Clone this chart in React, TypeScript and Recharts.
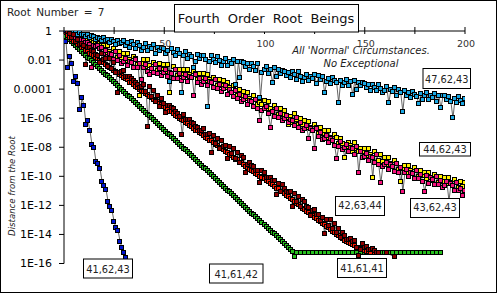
import { LineChart, Line, XAxis, YAxis } from "recharts";

// log10 of the distance from the root, one entry per iteration (0, 1, 2, ...)
// null = exact hit (distance 0) which a log axis can't show
const blue41_62_43 = [
  0, -0.73, -2.52, -1.81, -2.29, -3.49, -3.17, -3.67, -5.46, -4.63,
  -5.14, -6.5, -6.17, -6.9, -7.85, -8.07, -9.04, -9.15, -9.5, -10.37,
  -10.65, -10.94, -11.75, -12.09, -12.39, -13.12, -13.58, -13.76, -14.5, -14.96,
  -15.3, -15.65,
];

const green41_61_42 = [
  -0.25, -0.38, -0.52, -0.64, -0.77, -0.9, -1.04, -1.17, -1.3, -1.43,
  -1.56, -1.69, -1.83, -1.95, -2.08, -2.22, -2.35, -2.48, -2.61, -2.74,
  -2.87, -3.0, -3.13, -3.26, -3.4, -3.53, -3.66, -3.79, -3.92, -4.05,
  -4.18, -4.31, -4.44, -4.57, -4.7, -4.84, -4.97, -5.1, -5.23, -5.36,
  -5.49, -5.62, -5.75, -5.88, -6.01, -6.15, -6.28, -6.41, -6.54, -6.67,
  -6.8, -6.93, -7.06, -7.19, -7.32, -7.45, -7.58, -7.71, -7.83, -7.96,
  -8.09, -8.22, -8.35, -8.48, -8.61, -8.75, -8.88, -9.01, -9.14, -9.27,
  -9.4, -9.53, -9.66, -9.8, -9.93, -10.06, -10.19, -10.32, -10.45, -10.59,
  -10.72, -10.85, -10.98, -11.11, -11.24, -11.38, -11.51, -11.64, -11.77, -11.9,
  -12.03, -12.16, -12.3, -12.43, -12.56, -12.69, -12.82, -12.95, -13.08, -13.22,
  -13.35, -13.48, -13.61, -13.74, -13.87, -14.0, -14.13, -14.26, -14.4, -14.53,
  -14.66, -14.79, -14.92, -15.05, -15.19, -15.57, -15.26, null, -15.26, null,
  -15.26, null, -15.26, null, -15.26, null, -15.26, null, -15.26, null,
  -15.26, null, -15.26, null, -15.26, null, -15.26, null, -15.26, null,
  -15.26, null, -15.26, null, -15.26, null, -15.26, null, -15.26, null,
  -15.26, null, -15.26, null, -15.26, null, -15.26, null, -15.26, null,
  -15.26, null, -15.26, null, -15.26, null, -15.26, null, -15.26, null,
  -15.26, null, -15.26, null, -15.26, null, -15.26, null, -15.26, null,
  -15.26, null, -15.26, null, -15.26, null, -15.26, null, -15.26,
];

const red41_61_41 = [
  0, -0.15, -0.35, -0.5, -0.6, -0.78, -0.85, -0.98, -1.05, -1.15,
  -1.2, -1.38, -1.4, -1.58, -1.62, -1.72, -1.85, -1.9, -2.05, -2.1,
  -2.2, -2.35, -2.4, -2.55, -2.6, -2.72, -2.85, -2.9, -3.05, -3.1,
  -3.2, -3.33, -3.4, -3.55, -3.6, -3.72, -3.85, -3.9, -4.05, -4.1,
  -4.2, -4.33, -4.4, -4.55, -4.6, -4.72, -4.85, -4.9, -5.05, -5.1,
  -5.2, -5.33, -5.4, -5.55, -5.6, -5.72, -5.85, -5.9, -6.05, -6.1,
  -6.2, -6.33, -6.4, -6.55, -6.6, -6.72, -6.85, -6.9, -7.05, -7.1,
  -7.2, -7.33, -7.4, -7.55, -7.6, -7.72, -7.85, -7.9, -8.05, -8.1,
  -8.2, -8.33, -8.4, -8.55, -8.6, -8.72, -8.85, -8.9, -9.05, -9.1,
  -9.2, -9.33, -9.4, -9.55, -9.6, -9.72, -9.85, -9.9, -10.05, -10.1,
  -10.2, -10.33, -10.4, -10.55, -10.6, -10.72, -10.85, -10.9, -11.05, -11.1,
  -11.2, -11.33, -11.45, -11.55, -11.65, -11.78, -11.9, -12.0, -12.1, -12.22,
  -12.3, -12.45, -12.5, -12.65, -12.72, -12.85, -12.95, -13.05, -13.15, -13.3,
  -13.35, -13.5, -13.58, -13.7, -13.8, -13.9, -14.02, -14.1, -14.22, -14.3,
  -14.42, -14.5, -14.6, -14.65, -14.75, -14.82, -14.9, -14.95, -15.02, -15.08,
  -15.12, -15.18, -15.22, -15.26, null, -15.26,
];

const darkRed42_63_44 = [
  0, 0, -0.05, -0.2, -0.45, -0.25, -0.75, -0.6, -0.95, -0.9,
  -1.0, -2.34, -1.15, -1.2, -1.35, -1.45, -1.65, -1.7, -2.2, -1.6,
  -2.0, -1.9, -2.45, -1.95, -2.6, -2.2, -2.9, -4.24, -2.9, -2.85,
  -2.75, -3.15, -3.15, -3.15, -3.3, -3.45, -3.6, -3.7, -3.9, -3.85,
  -3.75, -4.2, -6.58, -3.85, -4.55, -4.15, -4.9, -4.45, -5.2, -4.65,
  -5.0, -5.66, -5.15, -5.15, -5.3, -5.4, -5.6, -5.7, -5.9, -7.16,
  -5.75, -6.15, -6.15, -6.15, -6.3, -6.4, -6.6, -6.7, -6.9, -6.85,
  -6.75, -7.15, -7.15, -7.1, -8.42, -7.25, -7.8, -7.45, -8.15, -7.6,
  -7.95, -7.9, -8.81, -7.95, -8.45, -8.1, -8.8, -8.4, -9.1, -8.6,
  -8.75, -9.79, -9.2, -9.1, -9.3, -9.35, -9.6, -9.65, -10.44, -9.65,
  -9.75, -10.1, -10.15, -10.1, -10.3, -10.35, -11.29, -10.55, -11.1, -10.6,
  -10.85, -11.05, -11.15, -11.1, -12.14, -11.2, -11.8, -11.45, -12.1, -11.6,
  -11.8, -12.1, -12.2, -12.71, -12.4, -12.35, -12.65, -12.65, -13.1, -12.85,
  -13.97, -13.0, -13.45, -13.0, -13.6, -13.3, -13.9, -13.6, -14.25, -13.9,
  -14.1, -14.35, -14.4, -14.3, -14.55, -14.45, -14.9, -15.5, -15.1, -14.65,
  -14.95, -14.85, -15.05, -15.1, -15.0, -15.15, -15.26, -15.26, null, null,
  null, -15.26, null, null, null, -15.57,
];

const pink43_62_43 = [
  0, -0.05, -0.15, -0.12, -0.3, -0.28, -0.45, -0.4, -0.55, -0.6,
  -0.7, -0.85, -0.8, -0.95, -2.57, -1.0, -1.1, -1.05, -1.25, -1.2,
  -1.55, -1.35, -1.82, -1.55, -1.65, -2.0, -1.42, -2.05, -1.75, -2.25,
  -2.1, -1.9, -2.38, -2.1, -2.2, -2.52, -1.98, -2.55, -2.25, -3.4,
  -2.55, -2.35, -2.82, -3.03, -2.6, -2.92, -2.35, -2.95, -2.62, -3.1,
  -2.9, -2.7, -3.18, -2.87, -2.95, -3.28, -2.7, -3.3, -2.98, -3.45,
  -3.2, -3.0, -3.48, -3.15, -3.25, -4.5, -3.02, -3.6, -3.3, -3.75,
  -3.5, -3.3, -3.8, -3.5, -3.6, -3.95, -3.4, -4.0, -3.7, -4.2,
  -4.0, -3.8, -4.38, -4.05, -4.25, -4.55, -4.1, -4.65, -4.38, -4.87,
  -4.75, -4.55, -5.08, -4.8, -4.9, -5.25, -4.72, -5.35, -6.2, -5.5,
  -5.4, -5.2, -5.7, -6.7, -5.55, -5.9, -5.35, -6.0, -5.7, -6.2,
  -6.05, -5.85, -6.35, -6.1, -6.2, -6.55, -6.0, -6.65, -6.35, -6.85,
  -6.75, -6.55, -7.4, -6.75, -6.88, -8.1, -6.75, -7.3, -7.0, -7.5,
  -7.4, -7.2, -7.7, -7.45, -7.55, -7.9, -8.8, -7.95, -7.65, -8.2,
  -8.05, -7.85, -8.35, -8.05, -8.15, -8.5, -7.95, -9.75, -8.3, -8.75,
  -8.65, -8.45, -8.95, -8.65, -8.75, -9.1, -8.55, -9.2, -10.48, -9.35,
  -9.25, -9.05, -9.55, -9.25, -9.35, -9.7, -9.15, -9.75, -9.45, -11.08,
  -9.8, -9.57, -10.08, -9.75, -9.85, -10.18, -9.65, -10.2, -9.92, -10.4,
  -11.08, -9.97, -10.5, -10.15, -10.28, -10.6, -10.05, -10.63, -10.35, -10.8,
  -10.65, -10.4, -11.7, -10.55, -10.68, -11.0, -10.45, -11.03, -10.9, -11.36,
  -11.0,
];

const yellow44_62_43 = [
  0, 0, -0.05, -0.1, -0.2, -0.15, -0.3, -0.35, -0.3, -0.45,
  -0.5, -0.62, -0.55, -0.75, -0.65, -0.85, -0.78, -0.95, -0.88, -1.05,
  -1.0, -1.5, -1.05, -1.45, -1.65, -1.25, -1.45, -1.85, -1.45, -1.85,
  -1.55, -2.05, -1.57, -2.0, -2.17, -1.78, -1.95, -2.35, -4.5, -2.3,
  -2.0, -2.47, -2.0, -2.4, -2.6, -2.18, -2.35, -2.75, -2.3, -2.7,
  -2.35, -2.85, -2.37, -4.29, -2.95, -2.5, -2.67, -3.08, -2.65, -3.02,
  -2.65, -3.13, -2.65, -3.05, -3.23, -2.8, -2.97, -3.38, -2.95, -3.32,
  -2.95, -3.45, -3.0, -3.4, -3.6, -3.22, -3.4, -3.8, -3.4, -3.8,
  -3.45, -3.95, -3.6, -3.95, -4.25, -3.8, -4.1, -4.45, -4.05, -4.5,
  -4.2, -4.7, -4.27, -4.7, -4.9, -4.5, -4.73, -5.12, -4.93, -5.12,
  -4.85, -5.35, -4.9, -5.35, -5.55, -5.15, -5.35, -5.8, -5.4, -5.8,
  -5.5, -6.0, -6.5, -5.95, -6.3, -5.7, -6.1, -6.45, -6.05, -6.5,
  -6.2, -6.7, -6.25, -6.65, -6.85, -6.5, -6.67, -7.1, -6.7, -7.1,
  -6.88, -7.35, -6.9, -7.35, -7.55, -7.15, -7.35, -7.8, -7.4, -7.8,
  -8.72, -7.95, -7.7, -7.9, -8.3, -7.7, -8.1, -8.3, -8.1, -8.3,
  -8.15, -8.6, -8.15, -8.55, -10.14, -8.35, -8.55, -8.95, -8.55, -9.0,
  -8.75, -9.2, -8.75, -9.15, -9.35, -8.95, -9.15, -9.55, -10.42, -9.5,
  -9.3, -9.75, -9.3, -9.65, -9.85, -9.45, -9.65, -10.02, -9.65, -10.0,
  -9.75, -10.2, -9.75, -10.1, -10.3, -9.88, -10.07, -10.45, -10.05, -10.4,
  -10.1, -10.55, -10.1, -10.45, -10.65, -10.22, -10.43, -10.8, -10.4, -10.72,
  -10.45,
];

const cyan47_62_43 = [
  0, 0, -0.02, 0, -0.08, -0.1, -0.05, -0.25, -0.12, -0.3,
  -0.25, -0.4, -0.3, -0.5, -0.35, -0.42, -0.6, -0.45, -0.55, -0.7,
  -0.5, -0.72, -0.6, -0.85, -0.65, -0.78, -0.95, -0.7, -0.9, -0.8,
  -0.7, -1.0, -0.85, -1.15, -0.75, -0.98, -1.25, -0.85, -1.05, -1.4,
  -1.15, -0.9, -1.38, -1.1, -1.25, -0.95, -1.6, -1.15, -1.4, -1.15,
  -1.25, -1.55, -1.35, -3.49, -1.25, -1.5, -1.7, -1.3, -1.55, -4.29,
  -1.7, -1.45, -1.95, -1.65, -1.8, -2.57, -2.15, -1.65, -1.9, -1.7,
  -1.7, -2.0, -5.21, -2.15, -1.75, -2.0, -2.2, -1.8, -2.05, -2.4,
  -2.15, -1.9, -2.4, -2.1, -2.3, -2.0, -3.7, -2.1, -3.23, -2.15,
  -2.2, -2.5, -2.3, -2.65, -2.25, -2.5, -2.75, -2.3, -4.59, -2.9,
  -2.7, -2.45, -2.95, -2.7, -3.6, -2.55, -3.15, -2.65, -2.95, -2.75,
  -2.8, -3.1, -2.9, -3.25, -2.85, -3.05, -3.35, -2.85, -3.15, -3.5,
  -3.25, -3.0, -3.45, -3.15, -3.3, -3.05, -3.65, -3.1, -3.4, -3.15,
  -4.29, -3.5, -3.3, -3.65, -3.25, -3.45, -3.6, -4.93, -3.45, -3.8,
  -3.55, -3.35, -3.8, -3.5, -4.4, -3.45, -4.05, -3.55, -3.8, -3.6,
  -3.65, -3.95, -3.75, -4.1, -3.7, -3.9, -4.15, -3.75, -4.0, -4.3,
  -4.1, -3.85, -4.97, -4.05, -4.2, -3.95, -4.5, -4.05, -4.3, -5.55,
  -4.15, -4.45, -4.25, -4.6, -4.2, -4.4, -4.55, -5.0, -4.35, -4.75,
  -4.5, -4.3, -4.75, -4.45, -4.6, -4.35, -4.9, -4.45, -5.32, -4.5,
  -4.45, -4.75, -4.55, -4.9, -6.0, -4.7, -4.95, -4.55, -4.8, -5.05,
  -4.7,
];

const xTicks = [0, 25, 50, 75, 100, 125, 150, 175, 200];
const yTicks = [1, 1e-2, 1e-4, 1e-6, 1e-8, 1e-10, 1e-12, 1e-14, 1e-16];
const yTickLabels = ["1", "0.01", "0.0001", "1E-06", "1E-08", "1E-10", "1E-12", "1E-14", "1E-16"];

const series = [
  { key: "s44", name: "44,62,43", exps: yellow44_62_43, color: "#fff000" },
  { key: "s43", name: "43,62,43", exps: pink43_62_43, color: "#f5127d" },
  { key: "s47", name: "47,62,43", exps: cyan47_62_43, color: "#1ba8e4" },
  { key: "s4142", name: "41,61,42", exps: green41_61_42, color: "#27c01e" },
  { key: "s4141", name: "41,61,41", exps: red41_61_41, color: "#ff1a00" },
  { key: "s42", name: "42,63,44", exps: darkRed42_63_44, color: "#900000" },
  { key: "s41", name: "41,62,43", exps: blue41_62_43, color: "#0014d4" },
];

const data = Array.from({ length: 201 }, (_, n) => {
  const row: Record<string, number | null> = { n };
  for (const s of series) {
    const e = s.exps[n];
    row[s.key] = e == null ? null : Math.pow(10, e);
  }
  return row;
});

const FONT = "'DejaVu Sans', sans-serif";
const PLOT_TOP = 31;

const XTick = (props: any) => {
  const { x, payload } = props;
  const v = payload.value;
  return (
    <g>
      <line x1={x} x2={x} y1={PLOT_TOP - 4} y2={PLOT_TOP + 3} stroke="#000" />
      {v > 0 && v % 50 === 0 && (
        <text x={x + 1} y={PLOT_TOP + 15.5} textAnchor="middle" fontSize={9.5} fill="#333" fontFamily={FONT}>
          {v}
        </text>
      )}
    </g>
  );
};

// square marker, black edge, snapped to whole pixels
const squareDot = (key: string, color: string) => (p: any) => {
  const k = `${key}-${p.index}`;
  if (p.value == null || !Number.isFinite(p.cx) || !Number.isFinite(p.cy)) return <g key={k} />;
  return (
    <rect
      key={k}
      x={Math.round(p.cx) - 2.5}
      y={Math.round(p.cy) - 2.5}
      width={4}
      height={4}
      fill={color}
      stroke="#000"
      strokeWidth={1}
    />
  );
};

const fmtY = (v: number) => yTickLabels[Math.round(-Math.log10(v) / 2)] ?? "";

// label boxes: [text, box x, box y, box w, box h, text baseline]
const boxes: [string, number, number, number, number, number][] = [
  ["47,62,43", 423, 68.5, 47.5, 20, 82.5],
  ["44,62,43", 419.5, 142.5, 51, 13.5, 153.3],
  ["42,63,44", 335.5, 196.5, 49, 19, 209],
  ["43,62,43", 410.5, 198.5, 49, 19, 211],
  ["41,62,43", 83.5, 259, 49, 19, 272.5],
  ["41,61,41", 337.5, 258.5, 49, 19, 271.5],
  ["41,61,42", 209.5, 264, 53.5, 19, 277.5],
];

export default function App() {
  return (
    <div style={{ position: "absolute", left: 0, top: 0, width: 498, height: 294, background: "#fff", fontFamily: FONT }}>
      <LineChart width={498} height={294} data={data} margin={{ top: PLOT_TOP - 1, right: 33, bottom: 30.5, left: 9 }}>
        <XAxis
          dataKey="n"
          type="number"
          domain={[0, 200]}
          ticks={xTicks}
          interval={0}
          orientation="top"
          height={1}
          axisLine={{ stroke: "#000" }}
          tickLine={false}
          tick={(p: any) => <XTick {...p} />}
          allowDataOverflow
        />
        <YAxis
          type="number"
          scale="log"
          domain={[1e-16, 1]}
          ticks={yTicks}
          interval={0}
          tickFormatter={fmtY}
          width={55}
          axisLine={{ stroke: "#000" }}
          tickLine={{ stroke: "#000" }}
          tickSize={5}
          tickMargin={7}
          tick={{ fontSize: 11, fill: "#000", fontFamily: FONT }}
          allowDataOverflow
        />
        {series.map((s) => (
          <Line
            key={s.key}
            dataKey={s.key}
            name={s.name}
            type="linear"
            stroke="#555"
            strokeWidth={0.9}
            connectNulls
            dot={squareDot(s.key, s.color)}
            activeDot={false}
            isAnimationActive={false}
          />
        ))}
      </LineChart>
      <svg width={498} height={294} style={{ position: "absolute", left: 0, top: 0, pointerEvents: "none" }} fontFamily={FONT}>
        <rect x={0.5} y={0.5} width={496} height={292} fill="none" stroke="#000" />
        <text x={7} y={16} fontSize={10.5} wordSpacing={2} fill="#222">Root Number = 7</text>
        <rect x={174.5} y={4.5} width={184} height={27.5} fill="#fff" stroke="#000" />
        <text x={266} y={22.5} fontSize={13} wordSpacing={4} textAnchor="middle" fill="#111">
          Fourth Order Root Beings
        </text>
        <text x={361} y={54} fontSize={10} fontStyle="italic" textAnchor="middle" fill="#222">
          All 'Normal' Circumstances.
        </text>
        <text x={361} y={67} fontSize={10} fontStyle="italic" textAnchor="middle" fill="#222">
          No Exceptional
        </text>
        <text
          transform="translate(15,186) rotate(-90)"
          fontSize={8.6}
          fontStyle="italic"
          textAnchor="middle"
          fill="#222"
        >
          Distance from the Root
        </text>
        {boxes.map(([t, x, y, w, h, b]) => (
          <g key={t}>
            <rect x={x} y={y} width={w} height={h} fill="#fff" stroke="#000" />
            <text x={x + w / 2} y={b} fontSize={9.8} textAnchor="middle" fill="#222">
              {t}
            </text>
          </g>
        ))}
      </svg>
    </div>
  );
}
